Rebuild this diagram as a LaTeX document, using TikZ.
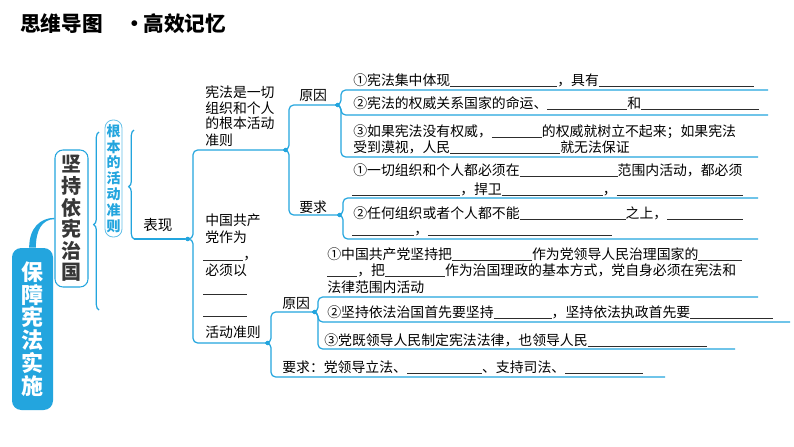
\documentclass[tikz,border=0pt]{standalone}
\usepackage{fontspec}
\newfontfamily\cjk{Noto Sans CJK SC}
\usetikzlibrary{decorations.pathreplacing}
\definecolor{mapblue}{RGB}{35,165,222}
\definecolor{darktxt}{RGB}{55,55,55}
\definecolor{blankgray}{RGB}{45,45,45}
\newcommand\bl[1]{{\color{blankgray}\rule[-1.2pt]{\dimexpr #1pt*3/4\relax}{0.5pt}}}
\tikzset{
    branch/.style={draw=mapblue, line width=0.9pt, rounded corners=3.5pt},
    txt/.style={font=\cjk\fontsize{10.4}{13}\selectfont, inner sep=0pt, anchor=base west},
    bigbrace/.style={draw=mapblue, line width=0.9pt, decorate, decoration={brace, amplitude=4pt, aspect=0.48}},
}
\begin{document}
\begin{tikzpicture}[x=0.75pt, y=-0.75pt]
        \useasboundingbox[fill=white] (0,0) rectangle (794,447);
        \node[font=\cjk\bfseries\fontsize{15.5}{16}\selectfont, anchor=west, inner sep=0pt] (title) at (20,24) {思维导图\hspace{16pt}·\hspace{-1pt}高效记忆};
        % left column
        \node[fill=mapblue, rounded corners=7pt, minimum width=30.75pt, minimum height=121.5pt, inner sep=0pt, text=white, font=\cjk\bfseries\fontsize{16.5}{17.1}\selectfont, align=center] (baozhang) at (32.5,329) {保\\障\\宪\\法\\实\\施};
        \node[draw=mapblue, line width=0.8pt, rounded corners=6pt, minimum width=24.75pt, minimum height=102.75pt, inner sep=0pt, text=darktxt, font=\cjk\bfseries\fontsize{15}{16.2}\selectfont, align=center] (jianchi) at (71.5,218.5) {坚\\持\\依\\宪\\治\\国};
        \node[draw=mapblue!70, line width=0.6pt, rounded corners=6pt, minimum width=12.75pt, minimum height=87.75pt, inner sep=0pt, text=mapblue, font=\cjk\bfseries\fontsize{10.5}{11.9}\selectfont, align=center] (zhunze) at (113.5,178.5) {根\\本\\的\\活\\动\\准\\则};
        \fill[mapblue] ([xshift=-2.5pt]baozhang.north) .. controls +(0,-20) and +(-14,0) .. ([yshift=0.5pt]jianchi.west) -- ([yshift=-0.5pt]jianchi.west) .. controls +(-12,0) and +(0,-18) .. ([xshift=2.5pt]baozhang.north) -- cycle;
        \draw[bigbrace] (99,310) -- (99,132);
        \draw[bigbrace] (134,239) -- (134,130);
        \node[font=\cjk\fontsize{10.9}{12}\selectfont, inner sep=0pt, anchor=base west] (biaoxian) at (143,230.5) {表现};
        % first branch
        \node[txt] (xf1) at (205,97) {宪法是一切};
        \node[txt] (xf2) at (205,113) {组织和个人};
        \node[txt] (xf3) at (205,128.5) {的根本活动};
        \node[txt] (xf4) at (205,145) {准则};
        \node[txt] (yy1) at (299,100.5) {原因};
        \node[txt] (yq1) at (299,212) {要求};
        \node[txt] (ry1) at (353,85) {①宪法集中体现\bl{107}，具有\bl{155}};
        \node[txt] (ry2) at (353,108.5) {②宪法的权威关系国家的命运、\bl{80}和\bl{118}};
        \node[txt] (ry3) at (353,136) {③如果宪法没有权威，\bl{50}的权威就树立不起来；如果宪法};
        \node[txt] (ry3b) at (353,152.5) {受到漠视，人民\bl{110}就无法保证};
        \node[txt] (rq1) at (353,175) {①一切组织和个人都必须在\bl{98}范围内活动，都必须};
        \node[txt] (rq1b) at (352,194.5) {\bl{108}，捍卫\bl{101}，\bl{126}};
        \node[txt] (rq2) at (353,218.5) {②任何组织或者个人都不能\bl{106}之上，\bl{76}};
        \node[txt] (rq2b) at (352,234.5) {\bl{62}，\bl{184}};
        % second branch
        \node[txt] (dz1) at (205,225.3) {中国共产};
        \node[txt] (dz2) at (205,242.3) {党作为};
        \node[txt] (dz3) at (203,259) {\bl{40}，};
        \node[txt] (dz4) at (205,275.3) {必须以};
        \node[txt] (dz5) at (203,293.5) {\bl{44}};
        \node[txt] (dz6) at (203,315.5) {\bl{44}};
        \node[txt] (dz7) at (205,337.3) {活动准则};
        \node[txt] (yy2) at (282,308) {原因};
        \node[txt] (sy1) at (327,259) {①中国共产党坚持把\bl{80}作为党领导人民治理国家的\bl{44}};
        \node[txt] (sy1b) at (327,275) {\bl{30}，把\bl{60}作为治国理政的基本方式，党自身必须在宪法和};
        \node[txt] (sy1c) at (327,292) {法律范围内活动};
        \node[txt] (sy2) at (327,317.5) {②坚持依法治国首先要坚持\bl{58}，坚持依法执政首先要\bl{83}};
        \node[txt] (sy3) at (324,345) {③党既领导人民制定宪法法律，也领导人民\bl{119}};
        \node[txt] (sq) at (282,372.5) {要求：党领导立法、\bl{75}、支持司法、\bl{78}};
        % line ends
        \coordinate (bxs) at (134,239);
        \coordinate (t3) at (185,239);
        \coordinate (xfE) at (283,150);
        \coordinate (dzE) at (265,343);
        \coordinate (yy1E) at (335,105);
        \coordinate (yq1E) at (337,215);
        \coordinate (ry1E) at (768,90);
        \coordinate (ry2E) at (768,115);
        \coordinate (ry3E) at (758,157);
        \coordinate (rq1E) at (758,198);
        \coordinate (rq2E) at (758,239);
        \coordinate (yy2E) at (312,312);
        \coordinate (sqE) at (665,377);
        \coordinate (sy1E) at (758,297);
        \coordinate (sy2E) at (790,322);
        \coordinate (sy3E) at (735,349);
        \draw[branch] (bxs) -- (t3);
        \draw[branch] (t3) -- ++(8,0) |- (xfE);
        \draw[branch] (t3) -- ++(8,0) |- (dzE);
        \draw[branch] (xfE) -- ++(6,0) |- (yy1E);
        \draw[branch] (xfE) -- ++(6,0) |- (yq1E);
        \foreach \e in {ry1E,ry2E,ry3E} \draw[branch] (yy1E) -- ++(6,0) |- (\e);
        \foreach \e in {rq1E,rq2E} \draw[branch] (yq1E) -- ++(6,0) |- (\e);
        \draw[branch] (dzE) -- ++(6,0) |- (yy2E);
        \draw[branch] (dzE) -- ++(6,0) |- (sqE);
        \foreach \e in {sy1E,sy2E,sy3E} \draw[branch] (yy2E) -- ++(6,0) |- (\e);
        \foreach \t in {t3,xfE,yy1E,yq1E,dzE,yy2E} \fill[mapblue] ([xshift=2pt]\t) circle (1.7pt);
    \end{tikzpicture}
\end{document}
